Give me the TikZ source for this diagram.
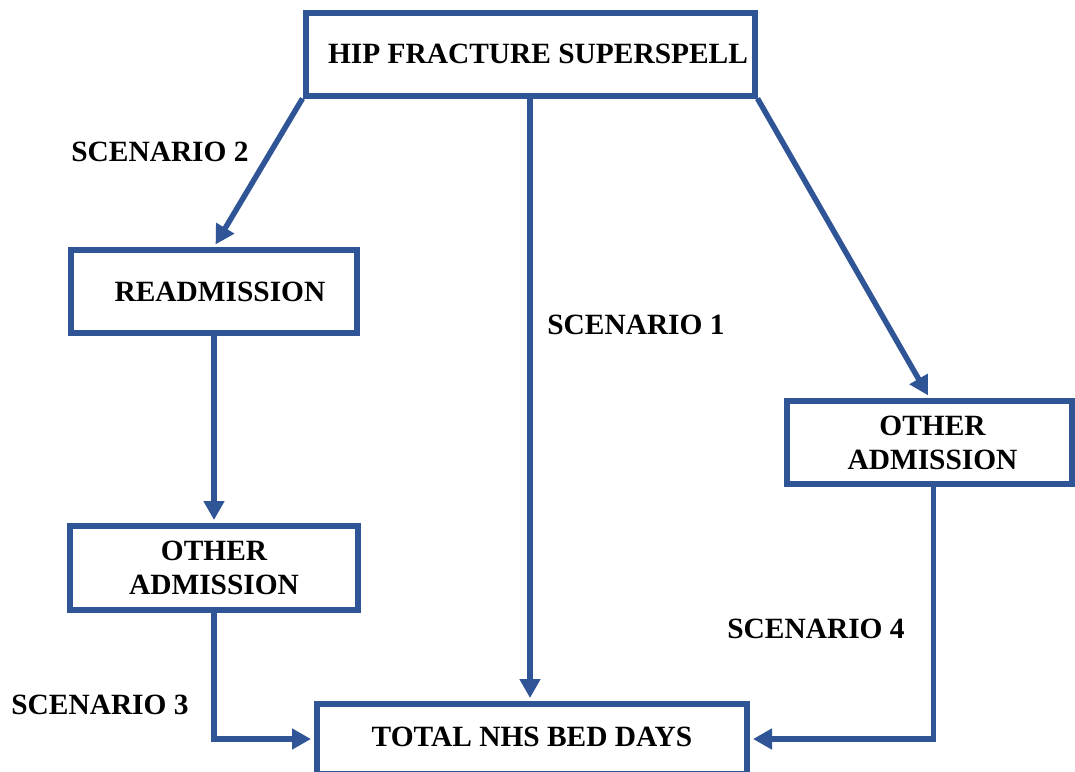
\documentclass[tikz,border=0pt]{standalone}
\usepackage{fontspec}
\setmainfont{Liberation Serif}
\usetikzlibrary{arrows.meta}
\definecolor{boxblue}{RGB}{47,85,151}
\begin{document}
\begin{tikzpicture}[x=1pt,y=-1pt,
  font=\fontsize{29.4}{34}\selectfont\bfseries,
  box/.style={draw=boxblue, line width=6pt, inner sep=0pt, align=center, fill=white},
  conn/.style={draw=boxblue, line width=5.5pt, -{Triangle[length=19pt,width=20pt]}, shorten >=3pt},
  lbl/.style={inner sep=0pt}]
\useasboundingbox (0,0) rectangle (1075,771);
\fill[white] (0,0) rectangle (1075,771);
\node[box, minimum width=449pt, minimum height=83pt] (top) at (530,54) {\hspace*{16pt}HIP FRACTURE SUPERSPELL};
\node[box, minimum width=286pt, minimum height=83pt] (readm) at (214,291.5) {\hspace*{12pt}READMISSION};
\node[box, minimum width=288pt, minimum height=84pt] (lother) at (214,568) {OTHER\\ADMISSION};
\node[box, minimum width=285pt, minimum height=83pt] (rother) at (929.5,442.5) {\hspace*{6pt}OTHER\\\hspace*{6pt}ADMISSION};
\node[box, minimum width=430pt, minimum height=70pt] (total) at (532,739) {\raisebox{5pt}{TOTAL NHS BED DAYS}};
\node[lbl] (s2) at (160,152) {SCENARIO 2};
\node[lbl] (s1) at (636,325) {SCENARIO 1};
\node[lbl] (s4) at (816,629) {SCENARIO 4};
\node[lbl] (s3) at (100,705) {SCENARIO 3};
\draw[conn] (top.south west) -- (readm.north);
\draw[conn] (top.south) -- (top.south |- total.north);
\draw[conn] (top.south east) -- (rother.north);
\draw[conn] (readm.south) -- (lother.north);
\draw[conn] (lother.south) |- (total.west);
\draw[conn] ([xshift=4pt]rother.south) |- (total.east);
\end{tikzpicture}
\end{document}
